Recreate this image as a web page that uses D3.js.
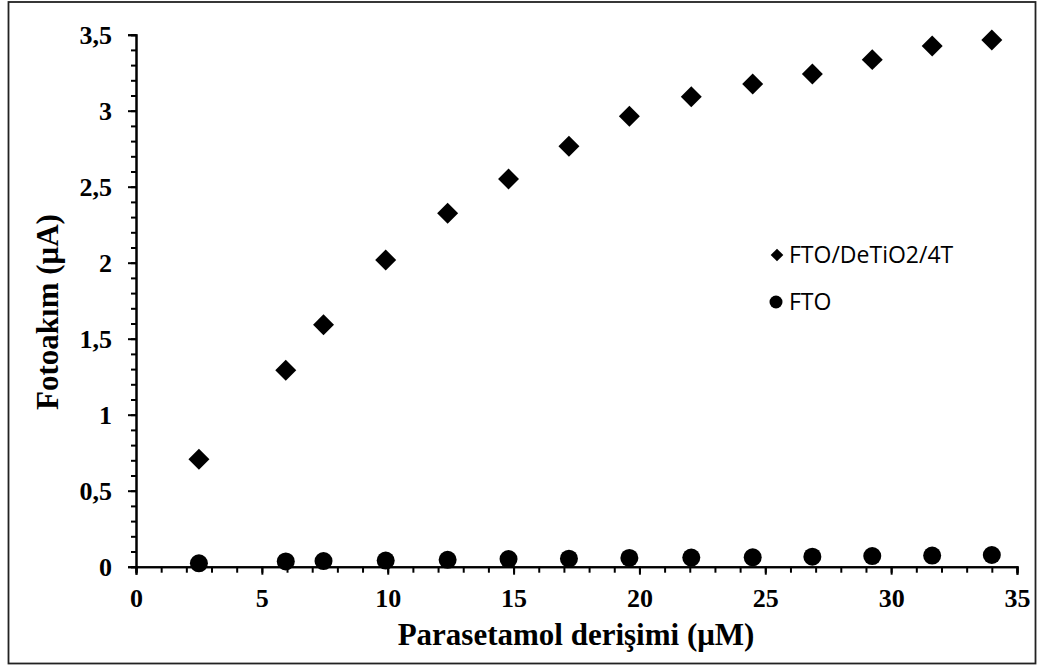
<!DOCTYPE html>
<html><head><meta charset="utf-8">
<script src="https://cdn.jsdelivr.net/npm/d3@7"></script>
<style>body{margin:0;background:#fff}svg{display:block}</style>
</head><body>
<script>
const concentrations = [2.5, 5.95, 7.45, 9.92, 12.38, 14.8, 17.2, 19.6, 22.06, 24.5, 26.87, 29.25, 31.63, 34.0];
const fto4T = [0.707, 1.292, 1.592, 2.018, 2.325, 2.551, 2.766, 2.963, 3.092, 3.176, 3.241, 3.336, 3.426, 3.465];
const fto = [0.022, 0.035, 0.037, 0.04, 0.045, 0.05, 0.053, 0.058, 0.06, 0.062, 0.066, 0.07, 0.073, 0.077];
const xTicks = [0, 5, 10, 15, 20, 25, 30, 35];
const yTicks = [0, 0.5, 1, 1.5, 2, 2.5, 3, 3.5];
const seriesNames = ["FTO/DeTiO2/4T", "FTO"];

const W = 1044, H = 666;
const svg = d3.select("body").append("svg").attr("width", W).attr("height", H);
svg.append("rect").attr("x", 8.5).attr("y", 2).attr("width", 1027).attr("height", 661.5)
  .attr("fill", "#fff").attr("stroke", "#222").attr("stroke-width", 1.8);

const x = d3.scaleLinear().domain([0, 35]).range([136, 1017]);
const y = d3.scaleLinear().domain([0, 3.5]).range([566.7, 34.7]);

const serif = "'Liberation Serif','Times New Roman',serif";

// minor ticks
const xMinor = d3.range(0, 36, 1);
const yMinor = d3.range(0, 36, 1).map(d => d / 10);
const gx = svg.append("g").attr("transform", `translate(0,${y(0)})`);
gx.call(d3.axisBottom(x).tickValues(xMinor).tickSize(6).tickFormat(""));
const gxMaj = svg.append("g").attr("transform", `translate(0,${y(0)})`);
gxMaj.call(d3.axisBottom(x).tickValues(xTicks).tickSize(8).tickPadding(14).tickFormat(d => d));
const gy = svg.append("g").attr("transform", `translate(${x(0)},0)`);
gy.call(d3.axisLeft(y).tickValues(yMinor).tickSize(5).tickFormat(""));
const gyMaj = svg.append("g").attr("transform", `translate(${x(0)},0)`);
gyMaj.call(d3.axisLeft(y).tickValues(yTicks).tickSize(8).tickPadding(16)
  .tickFormat(d => String(d).replace(".", ",")));
svg.selectAll(".domain").attr("stroke", "#000").attr("stroke-width", 2);
svg.selectAll(".tick line").attr("stroke", "#000").attr("stroke-width", 2);
svg.selectAll(".tick text").attr("font-family", serif).attr("font-weight", "bold")
  .attr("font-size", 26).attr("fill", "#000");

// points
const pts = concentrations.map((c, i) => ({c, a: fto4T[i], b: fto[i]}));
const diamond = d3.symbol().type(d3.symbolSquare).size(220);
svg.append("g").selectAll("path").data(pts).join("path")
  .attr("d", diamond)
  .attr("transform", d => `translate(${x(d.c)},${y(d.a)}) rotate(45)`)
  .attr("fill", "#000");
svg.append("g").selectAll("circle").data(pts).join("circle")
  .attr("cx", d => x(d.c)).attr("cy", d => y(d.b)).attr("r", 9).attr("fill", "#000");

// legend
const lg = svg.append("g");
lg.append("path").attr("d", d3.symbol().type(d3.symbolSquare).size(80)())
  .attr("transform", "translate(777,255) rotate(45)").attr("fill", "#000");
lg.append("circle").attr("cx", 776).attr("cy", 302).attr("r", 6.5).attr("fill", "#000");
lg.append("text").attr("x", 789).attr("y", 263).text(seriesNames[0]);
lg.append("text").attr("x", 789).attr("y", 310).text(seriesNames[1]);
lg.selectAll("text").attr("font-family", "'Open Sans',sans-serif").attr("font-size", 23).attr("fill", "#000");

// titles
svg.append("text").attr("x", 576).attr("y", 645).attr("text-anchor", "middle")
  .attr("font-family", serif).attr("font-weight", "bold").attr("font-size", 31)
  .text("Parasetamol derişimi (μM)");
svg.append("text").attr("transform", "translate(58,312) rotate(-90)").attr("text-anchor", "middle")
  .attr("font-family", serif).attr("font-weight", "bold").attr("font-size", 31)
  .text("Fotoakım (μA)");
</script>
</body></html>
